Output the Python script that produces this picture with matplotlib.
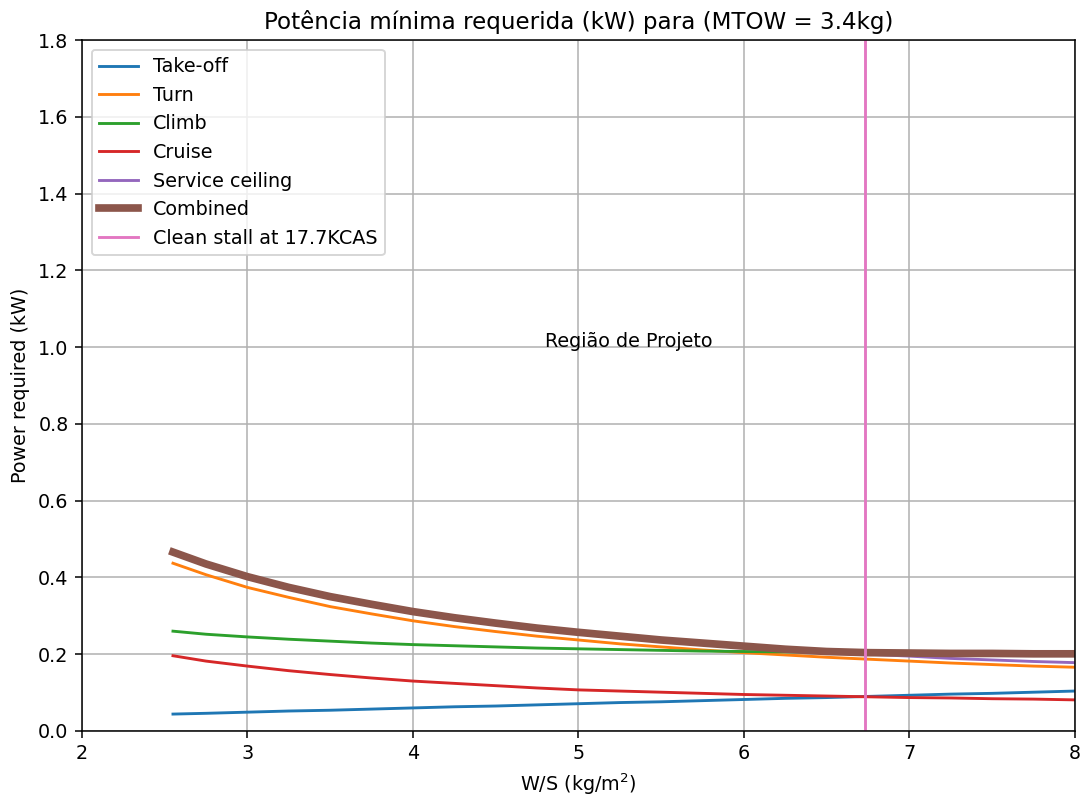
import numpy as np
import matplotlib
matplotlib.use('Agg')
import matplotlib.pyplot as plt

# W/S (kg/m^2)
ws = [2.55, 2.75, 3.0, 3.25, 3.5, 3.75, 4.0, 4.25, 4.5, 4.75, 5.0, 5.25,
      5.5, 5.75, 6.0, 6.25, 6.5, 6.75, 7.0, 7.25, 7.5, 7.75, 8.0]

# power required (kW)
takeoff = [0.044, 0.046, 0.049, 0.052, 0.054, 0.057, 0.060, 0.063, 0.065, 0.068, 0.071, 0.074,
           0.076, 0.079, 0.082, 0.085, 0.087, 0.090, 0.093, 0.096, 0.098, 0.101, 0.104]
turn = [0.437, 0.407, 0.374, 0.348, 0.324, 0.305, 0.287, 0.272, 0.259, 0.247, 0.237, 0.227,
        0.219, 0.211, 0.204, 0.198, 0.192, 0.187, 0.182, 0.177, 0.173, 0.169, 0.166]
climb = [0.260, 0.252, 0.245, 0.239, 0.234, 0.229, 0.225, 0.222, 0.219, 0.216, 0.214, 0.212,
         0.210, 0.208, 0.207, 0.206, 0.205, 0.204, 0.203, 0.202, 0.202, 0.201, 0.201]
cruise = [0.196, 0.182, 0.169, 0.157, 0.147, 0.138, 0.130, 0.124, 0.118, 0.112, 0.107, 0.104,
          0.101, 0.098, 0.095, 0.093, 0.091, 0.089, 0.087, 0.086, 0.084, 0.083, 0.081]
ceiling = [0.466, 0.435, 0.402, 0.374, 0.350, 0.330, 0.311, 0.295, 0.281, 0.268, 0.257, 0.247,
           0.237, 0.229, 0.221, 0.213, 0.207, 0.200, 0.195, 0.189, 0.185, 0.181, 0.178]

stall_ws = 6.73
mtow = 3.4

combined = np.max(np.vstack([takeoff, turn, climb, cruise, ceiling]), axis=0)

fig = plt.figure(figsize=(1084 / 138, 796 / 138), dpi=138)
ax = fig.add_axes([0.0756, 0.0817, 0.916, 0.868])

ax.plot(ws, takeoff, label='Take-off')
ax.plot(ws, turn, label='Turn')
ax.plot(ws, climb, label='Climb')
ax.plot(ws, cruise, label='Cruise')
ax.plot(ws, ceiling, label='Service ceiling')
ax.plot(ws, combined, linewidth=4, label='Combined')
ax.axvline(stall_ws, color='tab:pink', label='Clean stall at 17.7KCAS')

ax.text(4.8, 1.0, 'Região de Projeto')

ax.set_xlim(2, 8)
ax.set_ylim(0, 1.8)
ax.grid(True)
ax.legend(loc='upper left')
ax.set_title(f'Potência mínima requerida (kW) para (MTOW = {mtow}kg)')
ax.set_xlabel('W/S (kg/m$^2$)')
ax.set_ylabel('Power required (kW)')

fig.savefig('out.png', dpi=138)
